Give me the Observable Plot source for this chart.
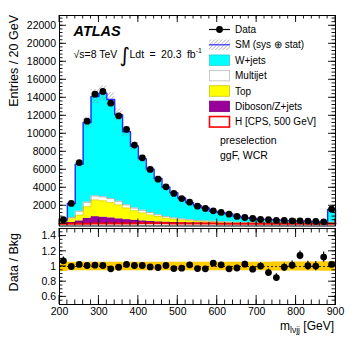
<!DOCTYPE html>
<html>
<head>
<meta charset="utf-8">
<script src="https://cdn.jsdelivr.net/npm/d3@7"></script>
<script src="https://cdn.jsdelivr.net/npm/@observablehq/plot@0.6"></script>
<style>
  body { margin: 0; background: #fff; }
  #chart { position: relative; width: 357px; height: 340px; font-family: "Liberation Sans", Arial, Helvetica, sans-serif; }
  #chart svg { position: absolute; left: 0; overflow: visible; }
</style>
</head>
<body>
<div id="chart"></div>
<script>
// ---------------- data ----------------
const binEdges = [200,220,240,260,280,300,320,340,360,380,400,420,440,460,480,500,520,540,560,580,600,620,640,660,680,700,720,740,760,780,800,820,840,860,880,900];
const dataCounts = [450,2260,6800,11400,14400,14700,13400,12000,10500,8750,7330,6040,4960,4110,3370,2800,2400,1960,1700,1440,1260,1070,820,700,590,480,450,370,370,330,330,300,260,220,1630];
const wjets = [170,1560,5220,8850,11050,11510,11010,9620,8120,6890,5740,4820,4030,3260,2810,2320,1900,1630,1430,1110,1000,910,680,540,490,380,400,350,300,265,235,245,215,155,1410];
const multijet = [70,150,450,500,450,450,450,400,350,300,300,270,200,180,150,130,110,100,90,80,70,60,50,45,40,35,35,30,25,20,20,20,17,15,60];
const topQ = [140,400,650,1300,1870,1830,1710,1560,1300,1070,890,720,590,450,360,295,245,200,165,135,115,90,75,65,55,43,35,32,30,26,23,19,18,16,80];
const diboson = [40,150,300,600,780,720,640,540,450,380,310,260,210,170,140,115,95,80,65,55,45,40,35,30,25,22,20,18,15,14,12,11,10,9,40];
const higgs = [2,5,10,15,20,25,30,35,40,45,50,55,55,50,45,40,35,30,25,20,17,14,12,10,8,7,6,5,4,4,3,3,2,2,10];
const ratio = [1.075,1.0,1.027,1.013,1.018,1.013,0.97,0.99,1.027,1.013,1.013,0.995,0.987,1.013,0.973,0.978,1.022,0.973,0.97,1.044,1.022,0.97,0.98,1.03,0.965,1.005,0.92,0.854,0.99,1.018,1.146,1.01,1.005,1.124,1.027];
const ratioErr = [0.05,0.02,0.012,0.01,0.009,0.008,0.009,0.009,0.01,0.011,0.012,0.013,0.014,0.016,0.017,0.019,0.02,0.023,0.024,0.027,0.029,0.03,0.035,0.038,0.041,0.046,0.047,0.05,0.052,0.055,0.058,0.058,0.062,0.067,0.025];
const bandErr = [0.065,0.055,0.055,0.055,0.055,0.055,0.055,0.055,0.055,0.055,0.055,0.055,0.055,0.055,0.055,0.055,0.055,0.055,0.055,0.055,0.055,0.055,0.055,0.055,0.055,0.055,0.055,0.058,0.058,0.058,0.058,0.06,0.06,0.062,0.062];

const mainYTicks = [2000,4000,6000,8000,10000,12000,14000,16000,18000,20000,22000];
const ratioYTicks = [0.6,0.8,1,1.2,1.4];
const xTicks = [200,300,400,500,600,700,800,900];
const legendLabels = ["Data","SM (sys \u2295 stat)","W+jets","Multijet","Top","Diboson/Z+jets","H [CPS, 500 GeV]"];

// ---------------- styles ----------------
const FONT = '"Liberation Sans", Arial, Helvetica, sans-serif';
const CYAN = "#00ffff", YELLOW = "#ffff00", PURPLE = "#990099", BLUE = "#2b2bff", BAND = "#ffcc00";

// ---------------- build rows ----------------
const rows = dataCounts.map((d, i) => {
  const c1 = diboson[i], c2 = c1 + topQ[i], c3 = c2 + multijet[i], c4 = c3 + wjets[i];
  return {x1: binEdges[i], x2: binEdges[i + 1], xc: (binEdges[i] + binEdges[i + 1]) / 2,
          c1, c2, c3, c4, data: d, h: higgs[i], ratio: ratio[i], rerr: ratioErr[i], band: bandErr[i]};
});
const steps = [];
rows.forEach(r => { steps.push({...r, x: r.x1}); steps.push({...r, x: r.x2}); });
const smLine = [{x: binEdges[0], c4: 0}, ...steps, {x: binEdges[binEdges.length - 1], c4: 0}];

// ---------------- main panel ----------------
const main = Plot.plot({
  width: 357, height: 226,
  marginLeft: 59, marginRight: 22, marginTop: 15, marginBottom: 0.5,
  style: {fontFamily: FONT, fontSize: "10.5px", background: "transparent", overflow: "visible"},
  x: {domain: [200, 900], axis: null, label: null},
  y: {domain: [-245, 23145], axis: null, label: null},
  marks: [
    Plot.area(steps, {x1: "x", y1: 0, y2: "c1", fill: PURPLE}),
    Plot.area(steps, {x1: "x", y1: "c1", y2: "c2", fill: YELLOW}),
    Plot.area(steps, {x1: "x", y1: "c2", y2: "c3", fill: "white"}),
    Plot.area(steps, {x1: "x", y1: "c3", y2: "c4", fill: CYAN}),
    Plot.line(steps, {x: "x", y: "c1", stroke: "#7a007a", strokeWidth: 0.6}),
    Plot.line(steps, {x: "x", y: "c2", stroke: "#c8c800", strokeWidth: 0.6}),
    Plot.line(steps, {x: "x", y: "c3", stroke: "#a8a8a8", strokeWidth: 0.9}),
    Plot.rect(rows, {x1: "x1", x2: "x2", y1: d => d.c4 * (1 - d.band), y2: d => d.c4 * (1 + d.band), fill: "url(#hatch)"}),
    Plot.line(smLine, {x: "x", y: "c4", stroke: BLUE, strokeWidth: 1.4}),
    Plot.line(steps, {x: "x", y: "h", stroke: "#ff0000", strokeWidth: 2}),
    Plot.dot(rows, {x: "xc", y: "data", r: 3.4, fill: "black", stroke: null}),
    Plot.frame({stroke: "black", strokeWidth: 1}),
    Plot.axisY(mainYTicks, {anchor: "left", label: null, tickSize: 0, tickPadding: 3.5, fontSize: 10.5, tickFormat: d => String(d)})
  ]
});

// ---------------- ratio panel ----------------
const rat = Plot.plot({
  width: 357, height: 114,
  marginLeft: 59, marginRight: 22, marginTop: 2, marginBottom: 36,
  style: {fontFamily: FONT, fontSize: "10.5px", background: "transparent", overflow: "visible"},
  x: {domain: [200, 900], axis: null, label: null},
  y: {domain: [0.5, 1.5], axis: null, label: null},
  marks: [
    Plot.area(steps, {x1: "x", y1: d => 1 - d.band, y2: d => 1 + d.band, fill: BAND}),
    Plot.ruleY([1], {stroke: "black", strokeWidth: 0.8, strokeDasharray: "2,2"}),
    Plot.ruleX(rows, {x: "xc", y1: d => d.ratio - d.rerr, y2: d => d.ratio + d.rerr, stroke: "black", strokeWidth: 1.2}),
    Plot.dot(rows, {x: "xc", y: "ratio", r: 3.4, fill: "black", stroke: null}),
    Plot.frame({stroke: "black", strokeWidth: 1}),
    Plot.axisY(ratioYTicks, {anchor: "left", label: null, tickSize: 0, tickPadding: 3.5, fontSize: 10.5, tickFormat: d => String(d)}),
    Plot.axisX(xTicks, {anchor: "bottom", label: null, tickSize: 0, tickPadding: 3, fontSize: 10.5, tickFormat: d => String(d)})
  ]
});

const chart = document.getElementById("chart");
main.style.top = "0px";
rat.style.top = "226px";
chart.appendChild(main);
chart.appendChild(rat);

// ---------------- hatch pattern ----------------
const defs = d3.select(main).insert("defs", ":first-child");
const pat = defs.append("pattern").attr("id", "hatch").attr("patternUnits", "userSpaceOnUse")
  .attr("width", 2.6).attr("height", 2.6).attr("patternTransform", "rotate(45)");
pat.append("line").attr("x1", 0).attr("y1", 0).attr("x2", 0).attr("y2", 2.6)
  .attr("stroke", "#808080").attr("stroke-width", 0.9);

// ---------------- inner ticks (ROOT style) ----------------
function addTicks(svg, p, o) {
  const sx = p.scale("x"), sy = p.scale("y");
  const [xl, xr] = sx.range;
  const [yb, yt] = sy.range;
  const g = d3.select(svg).append("g").attr("stroke", "black").attr("stroke-width", 0.9).attr("fill", "none");
  const seg = (x1, y1, x2, y2) => g.append("line").attr("x1", x1).attr("y1", y1).attr("x2", x2).attr("y2", y2);
  o.xMaj.forEach(v => { const X = sx.apply(v); seg(X, yb, X, yb - o.xLenMaj); seg(X, yt, X, yt + o.xLenMaj); });
  o.xMin.forEach(v => { const X = sx.apply(v); seg(X, yb, X, yb - o.xLenMin); seg(X, yt, X, yt + o.xLenMin); });
  o.yMaj.forEach(v => { const Y = sy.apply(v); seg(xl, Y, xl + o.yLenMaj, Y); seg(xr, Y, xr - o.yLenMaj, Y); });
  o.yMin.forEach(v => { const Y = sy.apply(v); seg(xl, Y, xl + o.yLenMin, Y); seg(xr, Y, xr - o.yLenMin, Y); });
}
addTicks(main, main, {
  xMaj: xTicks, xMin: d3.range(220, 900, 20), xLenMaj: 7, xLenMin: 3.5,
  yMaj: [0, ...mainYTicks], yMin: d3.range(400, 23000, 400), yLenMaj: 7, yLenMin: 3.5
});
addTicks(rat, rat, {
  xMaj: xTicks, xMin: d3.range(220, 900, 20), xLenMaj: 9, xLenMin: 4.5,
  yMaj: ratioYTicks, yMin: d3.range(0.55, 1.5, 0.05), yLenMaj: 7, yLenMin: 3.5
});

// ---------------- texts ----------------
const ms = d3.select(main);
const txt = (sel, x, y, s, size, extra = {}) => {
  const t = sel.append("text").attr("x", x).attr("y", y).attr("font-family", FONT)
    .attr("font-size", size).attr("fill", "black").attr("text-anchor", "start").text(s);
  Object.entries(extra).forEach(([k, v]) => t.attr(k, v));
  return t;
};
txt(ms, 73.5, 36.3, "ATLAS", 14.5, {"font-weight": "bold", "font-style": "italic"});
txt(ms, 73.5, 57.5, "\u221As=8 TeV", 10.5);
txt(ms, 119.5, 62, "\u222B", 20, {"font-family": '"DejaVu Sans", sans-serif', "font-weight": "normal"});
const lum = txt(ms, 129.5, 57.5, "Ldt = 20.3 fb", 10.5, {"word-spacing": "2.5px"});
lum.append("tspan").attr("dy", -4.5).attr("font-size", 7).text("-1");
txt(ms, 220, 144, "preselection", 10.5);
txt(ms, 220, 159, "ggF, WCR", 10.5);
// y titles
txt(ms, 0, 0, "Entries / 20 GeV", 12.5, {"text-anchor": "end", transform: "translate(17.5,15) rotate(-90)"});
const rs = d3.select(rat);
txt(rs, 0, 0, "Data / Bkg", 12.5, {"text-anchor": "end", transform: "translate(17.5,7) rotate(-90)"});
// x title
const xt = txt(rs, 334, 104, "m", 12, {"text-anchor": "end"});
xt.append("tspan").attr("font-size", 8.5).attr("dy", 3).text("l\u03BDjj");
xt.append("tspan").attr("dy", -3).text(" [GeV]");

// ---------------- legend ----------------
const lg = ms.append("g");
const lx = 209, lw = 21, lh = 10.5, tx = 235;
const ly = [29.5, 44.8, 60.2, 75.6, 91, 106.4, 121.8];
// Data
lg.append("line").attr("x1", lx).attr("x2", lx + lw).attr("y1", ly[0]).attr("y2", ly[0]).attr("stroke", "black").attr("stroke-width", 1.2);
lg.append("circle").attr("cx", lx + lw / 2).attr("cy", ly[0]).attr("r", 3.4).attr("fill", "black");
// SM
lg.append("rect").attr("x", lx).attr("y", ly[1] - lh / 2).attr("width", lw).attr("height", lh).attr("fill", "url(#hatch)");
lg.append("line").attr("x1", lx).attr("x2", lx + lw).attr("y1", ly[1]).attr("y2", ly[1]).attr("stroke", BLUE).attr("stroke-width", 1.2);
// boxes
const boxes = [[CYAN, "#33cccc"], ["white", "#bbbbbb"], [YELLOW, "#c8c800"], [PURPLE, "#7a007a"], ["white", "#ff0000"]];
boxes.forEach(([f, s], i) => {
  lg.append("rect").attr("x", lx + 0.5).attr("y", ly[i + 2] - lh / 2).attr("width", lw - 1).attr("height", lh)
    .attr("fill", f).attr("stroke", s).attr("stroke-width", i === 4 ? 1.6 : 0.8);
});
legendLabels.forEach((s, i) => txt(lg, tx, ly[i] + 3.6, s, 10));
</script>
</body>
</html>
